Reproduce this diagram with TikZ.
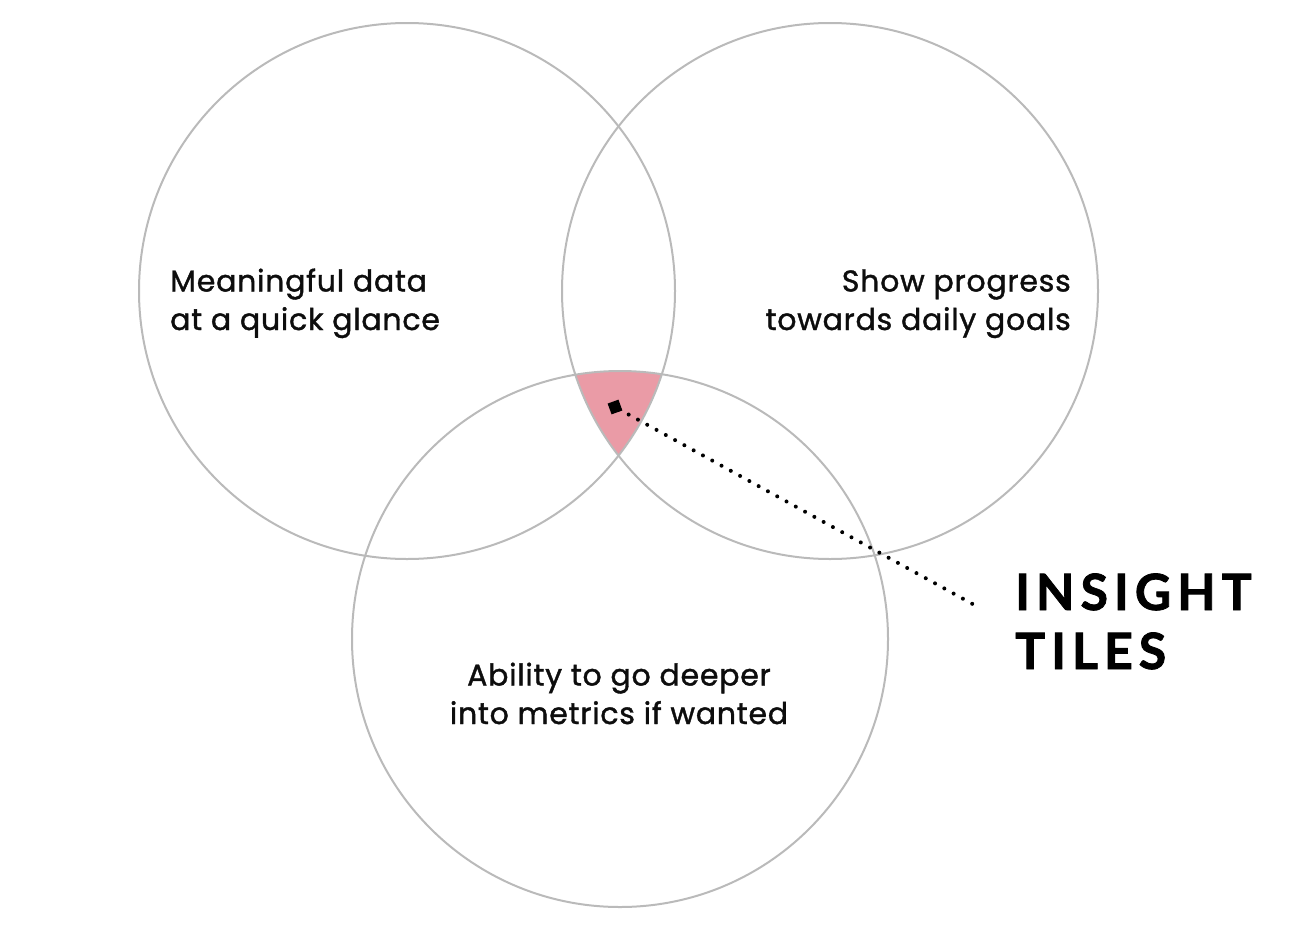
\documentclass[tikz,border=0pt]{standalone}
\usepackage{fontspec}
\setmainfont{Poppins}[LetterSpace=2.5, FakeBold=1.3]
\newfontfamily\tagfont{Lato}[LetterSpace=12, BoldFeatures={FakeBold=1.6}]
\begin{document}
\begin{tikzpicture}[x=1pt,y=-1pt,
  ring/.style={draw=black!27, line width=2pt},
  label/.style={inner sep=0pt, font=\fontsize{30}{38.5}\selectfont, text=black!95},
  tag/.style={inner sep=0pt, align=left, font=\tagfont\bfseries\fontsize{50}{59}\selectfont}]
  \useasboundingbox (0,0) rectangle (1304,945);
  % circle centres
  \coordinate (cl) at (407,291);
  \coordinate (cr) at (830,291);
  \coordinate (cb) at (620,639);
  % shared region of all three circles
  \begin{scope}
    \clip (cl) circle (268);
    \clip (cr) circle (268);
    \fill[fill={rgb,255:red,234;green,155;blue,166}] (cb) circle (268);
  \end{scope}
  \draw[ring] (cl) circle (268);
  \draw[ring] (cr) circle (268);
  \draw[ring] (cb) circle (268);
  % circle labels (anchored at the baseline of their last line)
  \node[label, anchor=base west, align=left] (tl) at (170,330) {Meaningful data\\at a quick glance};
  \node[label, anchor=base east, align=right] (tr) at (1071,330) {Show progress\\towards daily goals};
  \node[label, anchor=base, align=center] (tb) at (619,724) {Ability to go deeper\\into metrics if wanted};
  % pointer from the shared region to its title
  \node[fill=black, minimum size=11.5pt, inner sep=0pt, rotate=20] (mk) at (615,407) {};
  \coordinate (pe) at (978,607);
  \draw[line width=4pt, line cap=round, dash pattern=on 0pt off 10.6pt, shorten <=5pt] (mk.center) -- (pe);
  \node[tag, anchor=base west] (ttl) at (1015,669) {INSIGHT\\TILES};
\end{tikzpicture}
\end{document}
